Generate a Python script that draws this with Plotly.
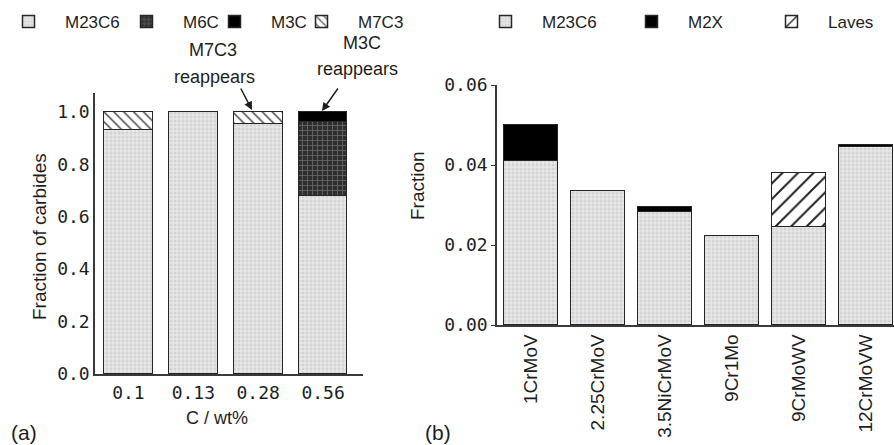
import plotly.graph_objects as go

W, H = 894, 445

# (a) carbide fractions versus carbon content
carbon = ["0.1", "0.13", "0.28", "0.56"]
a_m23c6 = [0.931, 1.0, 0.954, 0.680]
a_m6c = [0.0, 0.0, 0.0, 0.282]
a_m3c = [0.0, 0.0, 0.0, 0.038]
a_m7c3 = [0.069, 0.0, 0.046, 0.0]
a_yticks = [0.0, 0.2, 0.4, 0.6, 0.8, 1.0]

# (b) precipitate fractions in power-plant steels
steels = ["1CrMoV", "2.25CrMoV", "3.5NiCrMoV", "9Cr1Mo", "9CrMoWV", "12CrMoVW"]
b_m23c6 = [0.0410, 0.0335, 0.0283, 0.0223, 0.0245, 0.0445]
b_m2x = [0.0089, 0.0, 0.0012, 0.0, 0.0, 0.0004]
b_laves = [0.0, 0.0, 0.0, 0.0, 0.0134, 0.0]
b_yticks = [0.00, 0.02, 0.04, 0.06]

INK = "#1e1e1e"
OUTLINE = dict(color="#262626", width=1.5)
SANS = "Liberation Sans, Arial, sans-serif"
MONO = "DejaVu Sans Mono, monospace"

def px_x(p):
    return p / W

def px_y(p):
    return 1 - p / H

pat_m23c6 = dict(shape="+", fgcolor="#f2f2f2", bgcolor="#d4d4d4", size=4, solidity=0.35, fillmode="replace")
pat_m6c = dict(shape="+", fgcolor="#6a6a6a", bgcolor="#2e2e2e", size=5, solidity=0.3, fillmode="replace")
pat_black = dict(shape="", fgcolor="#000000", bgcolor="#000000", fillmode="replace")
pat_m7c3 = dict(shape="\\", fgcolor="#3a3a3a", bgcolor="#ffffff", size=7, solidity=0.2, fillmode="replace")
pat_laves = dict(shape="/", fgcolor="#202020", bgcolor="#ffffff", size=11, solidity=0.18, fillmode="replace")

fig = go.Figure()

def add_bar(x, y, name, pattern, color, xaxis, yaxis, legend, width):
    fig.add_trace(go.Bar(
        x=x, y=y, name=name, width=width,
        marker=dict(color=color, pattern=pattern, line=OUTLINE),
        xaxis=xaxis, yaxis=yaxis, legend=legend, showlegend=True,
        hoverinfo="x+y+name",
    ))

add_bar(carbon, a_m23c6, "M23C6", pat_m23c6, "#d4d4d4", "x", "y", "legend", 0.75)
add_bar(carbon, a_m6c, "M6C", pat_m6c, "#2e2e2e", "x", "y", "legend2", 0.75)
add_bar(carbon, a_m3c, "M3C", pat_black, "#000000", "x", "y", "legend3", 0.75)
add_bar(carbon, a_m7c3, "M7C3", pat_m7c3, "#ffffff", "x", "y", "legend4", 0.75)

add_bar(steels, b_m23c6, "M23C6", pat_m23c6, "#d4d4d4", "x2", "y2", "legend5", 0.8)
add_bar(steels, b_m2x, "M2X", pat_black, "#000000", "x2", "y2", "legend6", 0.8)
add_bar(steels, b_laves, "Laves", pat_laves, "#ffffff", "x2", "y2", "legend7", 0.8)

axis_common = dict(showline=True, linecolor="#3a3a3a", linewidth=1.5, showgrid=False,
                   zeroline=False, ticks="outside", ticklen=4, tickcolor="#3a3a3a",
                   tickfont=dict(family=MONO, size=18, color=INK))

fig.update_layout(
    width=W, height=H, barmode="stack", bargap=0,
    margin=dict(l=0, r=0, t=0, b=0, autoexpand=False),
    paper_bgcolor="white", plot_bgcolor="white",
    font=dict(family=SANS, color=INK),
    xaxis=dict(domain=[px_x(95), px_x(363)], range=[-0.515, 3.615], anchor="y",
               ticklabelstandoff=2, **{**axis_common, "ticks": ""}),
    yaxis=dict(domain=[px_y(374), px_y(93)], range=[0, 1.072], anchor="x",
               tickvals=a_yticks, tickformat=".1f", **{**axis_common, "ticks": ""}),
    xaxis2=dict(domain=[px_x(497), 1.0], range=[-0.507, 5.42], anchor="y2",
                tickangle=-90, ticklabelstandoff=0,
                **{**axis_common, "ticks": "",
                   "tickfont": dict(family=SANS, size=19, color=INK)}),
    yaxis2=dict(domain=[px_y(325), px_y(85)], range=[0, 0.06], anchor="x2",
                tickvals=b_yticks, tickformat=".2f", **axis_common),
)

# one legend per entry so that every key sits where it belongs in the row
legend_pos = {
    "legend": -8, "legend2": 110, "legend3": 198, "legend4": 285,
    "legend5": 469, "legend6": 615, "legend7": 755,
}
for key, xp in legend_pos.items():
    fig.update_layout({key: dict(
        x=px_x(xp), y=px_y(22), xanchor="left", yanchor="middle",
        orientation="h", bgcolor="rgba(0,0,0,0)", borderwidth=0, itemwidth=63,
        font=dict(family=SANS, size=17, color=INK), itemclick=False,
    )})

ann_font = dict(family=SANS, size=18, color=INK)
annotations = [
    dict(text="M7C3", x=px_x(213), y=px_y(50)),
    dict(text="reappears", x=px_x(214), y=px_y(77)),
    dict(text="M3C", x=px_x(362), y=px_y(43)),
    dict(text="reappears", x=px_x(357), y=px_y(69)),
    dict(text="C / wt%", x=px_x(217), y=px_y(418)),
    dict(text="Fraction of carbides", x=px_x(39), y=px_y(237), textangle=-90,
         font=dict(family=SANS, size=19, color=INK)),
    dict(text="Fraction", x=px_x(417), y=px_y(186), textangle=-90,
         font=dict(family=SANS, size=19, color=INK)),
    dict(text="(a)", x=px_x(24), y=px_y(432), font=dict(family=SANS, size=21, color=INK)),
    dict(text="(b)", x=px_x(438), y=px_y(432), font=dict(family=SANS, size=21, color=INK)),
]
for a in annotations:
    base = dict(xref="paper", yref="paper", showarrow=False, xanchor="center",
                yanchor="middle", font=ann_font)
    base.update(a)
    fig.add_annotation(**base)

# arrows pointing at the reappearing phases
for head, tail in [((252, 110), (240, 87)), ((322, 111), (339, 87))]:
    fig.add_annotation(
        xref="paper", yref="paper", x=px_x(head[0]), y=px_y(head[1]),
        ax=tail[0] - head[0], ay=tail[1] - head[1], text="",
        showarrow=True, arrowhead=2, arrowsize=1.1, arrowwidth=1.5,
        arrowcolor=INK, standoff=0,
    )

fig.write_html("out.html")
